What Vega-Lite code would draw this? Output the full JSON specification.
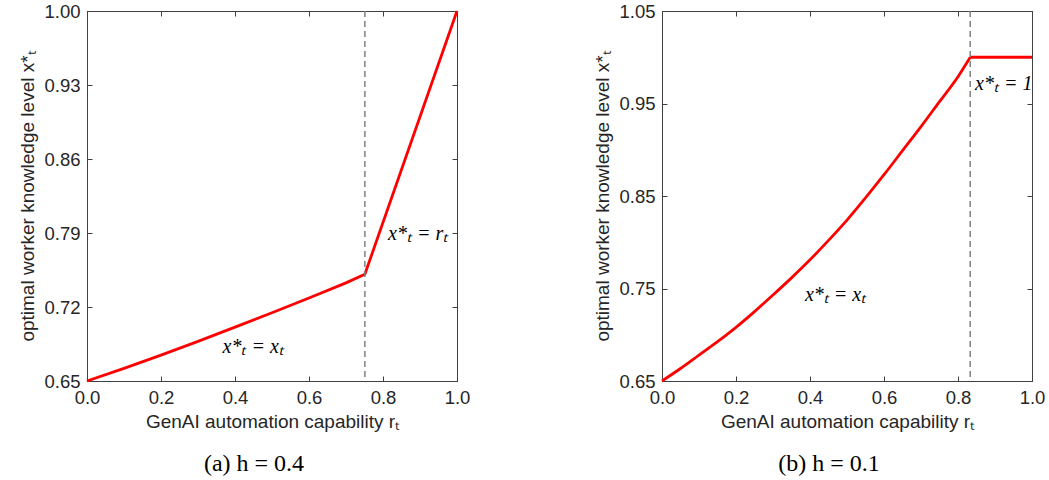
{
  "$schema": "https://vega.github.io/schema/vega-lite/v6.json",
  "background": "white",
  "padding": {"left": 18, "top": 1, "right": 0, "bottom": 5},
  "spacing": 122,
  "datasets": {
    "curveA": [
      {"r": 0.0, "x": 0.65}, {"r": 0.1, "x": 0.662}, {"r": 0.2, "x": 0.6745}, {"r": 0.3, "x": 0.6875},
      {"r": 0.4, "x": 0.701}, {"r": 0.5, "x": 0.7146}, {"r": 0.6, "x": 0.7285}, {"r": 0.7, "x": 0.7428},
      {"r": 0.751, "x": 0.751}, {"r": 1.0, "x": 1.0}
    ],
    "curveB": [
      {"r": 0.0, "x": 0.65}, {"r": 0.05, "x": 0.6635}, {"r": 0.1, "x": 0.678}, {"r": 0.15, "x": 0.6925},
      {"r": 0.2, "x": 0.708}, {"r": 0.25, "x": 0.725}, {"r": 0.3, "x": 0.743}, {"r": 0.35, "x": 0.7615},
      {"r": 0.4, "x": 0.781}, {"r": 0.45, "x": 0.802}, {"r": 0.5, "x": 0.824}, {"r": 0.55, "x": 0.848},
      {"r": 0.6, "x": 0.873}, {"r": 0.65, "x": 0.899}, {"r": 0.7, "x": 0.925}, {"r": 0.75, "x": 0.952},
      {"r": 0.8, "x": 0.979}, {"r": 0.833, "x": 1.0}
    ],
    "flatB": [{"r": 0.833, "x": 1.0}, {"r": 1.0, "x": 1.0}],
    "cutA": [{"r": 0.751}],
    "cutB": [{"r": 0.833}],
    "labA": [
      {"r": 0.449, "x": 0.6818, "label": "x*ₜ = xₜ"},
      {"r": 0.895, "x": 0.789, "label": "x*ₜ = rₜ"}
    ],
    "labB": [
      {"r": 0.469, "x": 0.743, "label": "x*ₜ = xₜ"},
      {"r": 0.9235, "x": 0.9706, "label": "x*ₜ = 1"}
    ]
  },
  "hconcat": [
    {
      "width": 370,
      "height": 370,
      "title": {"text": "(a) h = 0.4", "orient": "bottom", "anchor": "middle", "frame": "group", "dx": -18, "offset": 20, "font": "Liberation Serif", "fontSize": 24, "fontWeight": "normal", "color": "#000000"},
      "resolve": {"axis": {"x": "independent", "y": "independent"}},
      "layer": [
        {
          "data": {"name": "curveA"},
          "mark": {"type": "line", "color": "#ff0000", "strokeWidth": 2.8},
          "encoding": {
            "x": {"field": "r", "type": "quantitative", "scale": {"domain": [0, 1], "nice": false},
                  "axis": {"title": "GenAI automation capability rₜ", "values": [0, 0.2, 0.4, 0.6, 0.8, 1.0], "format": ".1f"}},
            "y": {"field": "x", "type": "quantitative", "scale": {"domain": [0.65, 1.0], "nice": false, "zero": false},
                  "axis": {"title": "optimal worker knowledge level x*ₜ", "values": [0.65, 0.72, 0.79, 0.86, 0.93, 1.0], "format": ".2f"}}
          }
        },
        {
          "data": {"name": "curveA"},
          "mark": {"type": "line", "opacity": 0},
          "encoding": {
            "x": {"field": "r", "type": "quantitative", "axis": {"orient": "top", "title": null, "labels": false, "values": [0, 0.2, 0.4, 0.6, 0.8, 1.0]}},
            "y": {"field": "x", "type": "quantitative", "axis": {"orient": "right", "title": null, "labels": false, "values": [0.65, 0.72, 0.79, 0.86, 0.93, 1.0]}}
          }
        },
        {
          "data": {"name": "cutA"},
          "mark": {"type": "rule", "color": "#808080", "strokeWidth": 1.5, "strokeDash": [6, 4]},
          "encoding": {"x": {"field": "r", "type": "quantitative", "axis": null}}
        },
        {
          "data": {"name": "labA"},
          "mark": {"type": "text", "font": "Liberation Serif", "fontStyle": "italic", "fontSize": 20, "color": "#000000", "align": "center", "baseline": "middle"},
          "encoding": {
            "x": {"field": "r", "type": "quantitative", "axis": null},
            "y": {"field": "x", "type": "quantitative", "axis": null},
            "text": {"field": "label"}
          }
        }
      ]
    },
    {
      "width": 370,
      "height": 370,
      "title": {"text": "(b) h = 0.1", "orient": "bottom", "anchor": "middle", "frame": "group", "dx": -18, "offset": 20, "font": "Liberation Serif", "fontSize": 24, "fontWeight": "normal", "color": "#000000"},
      "resolve": {"axis": {"x": "independent", "y": "independent"}},
      "layer": [
        {
          "data": {"name": "curveB"},
          "mark": {"type": "line", "color": "#ff0000", "strokeWidth": 2.8, "interpolate": "monotone"},
          "encoding": {
            "x": {"field": "r", "type": "quantitative", "scale": {"domain": [0, 1], "nice": false},
                  "axis": {"title": "GenAI automation capability rₜ", "values": [0, 0.2, 0.4, 0.6, 0.8, 1.0], "format": ".1f"}},
            "y": {"field": "x", "type": "quantitative", "scale": {"domain": [0.65, 1.05], "nice": false, "zero": false},
                  "axis": {"title": "optimal worker knowledge level x*ₜ", "values": [0.65, 0.75, 0.85, 0.95, 1.05], "format": ".2f"}}
          }
        },
        {
          "data": {"name": "flatB"},
          "mark": {"type": "line", "color": "#ff0000", "strokeWidth": 2.8},
          "encoding": {
            "x": {"field": "r", "type": "quantitative", "axis": {"orient": "top", "title": null, "labels": false, "values": [0, 0.2, 0.4, 0.6, 0.8, 1.0]}},
            "y": {"field": "x", "type": "quantitative", "axis": {"orient": "right", "title": null, "labels": false, "values": [0.65, 0.75, 0.85, 0.95, 1.05]}}
          }
        },
        {
          "data": {"name": "cutB"},
          "mark": {"type": "rule", "color": "#808080", "strokeWidth": 1.5, "strokeDash": [6, 4]},
          "encoding": {"x": {"field": "r", "type": "quantitative", "axis": null}}
        },
        {
          "data": {"name": "labB"},
          "mark": {"type": "text", "font": "Liberation Serif", "fontStyle": "italic", "fontSize": 20, "color": "#000000", "align": "center", "baseline": "middle"},
          "encoding": {
            "x": {"field": "r", "type": "quantitative", "axis": null},
            "y": {"field": "x", "type": "quantitative", "axis": null},
            "text": {"field": "label"}
          }
        }
      ]
    }
  ],
  "config": {
    "view": {"stroke": "#404040", "strokeWidth": 1},
    "axis": {
      "grid": false,
      "labelFlush": false,
      "domainColor": "#404040",
      "domainWidth": 1,
      "tickColor": "#404040",
      "tickSize": -5,
      "tickWidth": 1,
      "labelFont": "Liberation Sans",
      "labelFontSize": 18.5,
      "labelColor": "#262626",
      "labelPadding": 12,
      "titleFont": "Liberation Sans",
      "titleFontSize": 19,
      "titleFontWeight": "normal",
      "titleColor": "#262626",
      "titlePadding": 6
    }
  }
}
